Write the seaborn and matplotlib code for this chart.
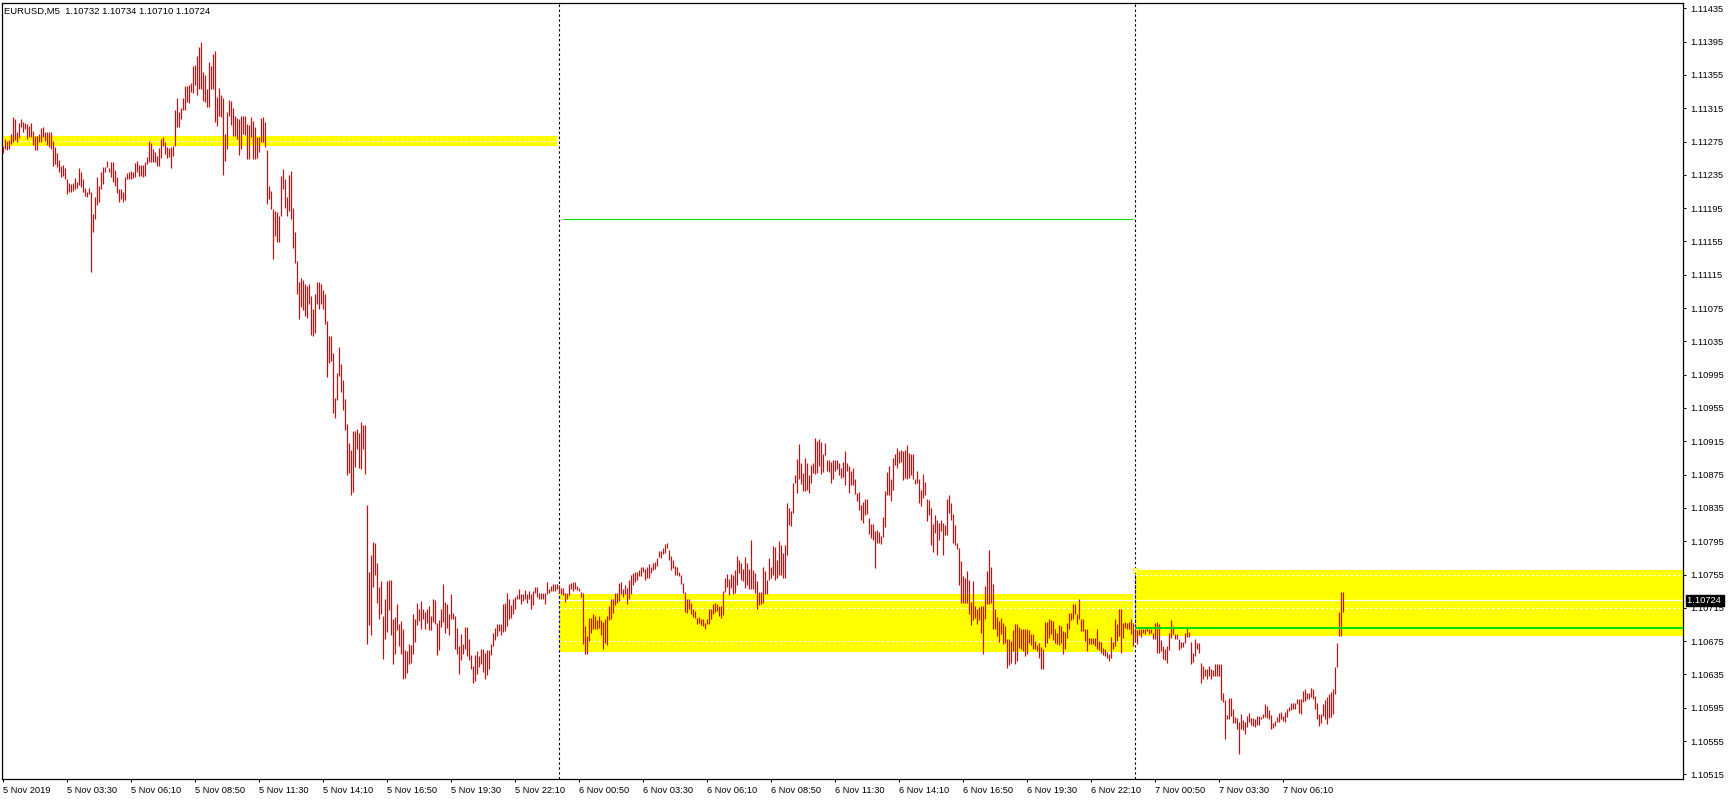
import numpy as np
import pandas as pd
import matplotlib
matplotlib.use("Agg")
import matplotlib.pyplot as plt
import matplotlib.transforms as mtransforms
import seaborn as sns

# ---------------- data ----------------
symbol = "EURUSD,M5"
last_ohlc = ["1.10732", "1.10734", "1.10710", "1.10724"]
start_time = "2019-11-05 00:50"
bar_minutes = 5

# bar highs / lows in points above 1.10000 (1 point = 0.00001)
high_pts = [
    1270, 1278, 1276, 1277, 1284, 1304, 1302, 1286, 1297, 1302,
    1298, 1297, 1296, 1294, 1297, 1288, 1282, 1282, 1284, 1291,
    1292, 1286, 1286, 1286, 1286, 1276, 1268, 1261, 1253, 1246,
    1247, 1243, 1230, 1225, 1224, 1225, 1231, 1227, 1243, 1238,
    1230, 1219, 1214, 1219, 1215, 1188, 1208, 1232, 1222, 1239,
    1244, 1245, 1252, 1243, 1250, 1250, 1241, 1232, 1218, 1218,
    1214, 1232, 1237, 1238, 1240, 1238, 1249, 1252, 1247, 1247,
    1247, 1250, 1256, 1276, 1273, 1266, 1262, 1258, 1267, 1278,
    1280, 1275, 1268, 1267, 1268, 1270, 1313, 1327, 1311, 1315,
    1327, 1342, 1342, 1343, 1345, 1366, 1367, 1378, 1389, 1394,
    1358, 1355, 1338, 1370, 1366, 1380, 1384, 1328, 1339, 1331,
    1327, 1284, 1311, 1325, 1324, 1315, 1306, 1303, 1302, 1306,
    1306, 1306, 1296, 1295, 1304, 1300, 1292, 1281, 1281, 1303,
    1305, 1299, 1265, 1222, 1216, 1194, 1192, 1190, 1185, 1234,
    1242, 1230, 1208, 1235, 1240, 1195, 1166, 1132, 1106, 1111,
    1109, 1104, 1101, 1104, 1090, 1074, 1092, 1106, 1106, 1104,
    1097, 1092, 1060, 1041, 1041, 1021, 967, 997, 1028, 1008,
    989, 966, 936, 913, 904, 927, 927, 930, 925, 938,
    934, 935, 839, 758, 778, 794, 793, 769, 740, 747,
    705, 726, 747, 749, 749, 702, 704, 720, 695, 699,
    690, 664, 663, 671, 670, 708, 701, 721, 713, 723,
    713, 710, 714, 717, 705, 726, 724, 697, 700, 714,
    744, 722, 719, 708, 731, 709, 705, 691, 669, 684,
    672, 692, 692, 678, 658, 645, 658, 663, 657, 665,
    666, 661, 664, 664, 671, 685, 691, 695, 695, 695,
    720, 721, 733, 726, 718, 725, 728, 730, 738, 731,
    732, 736, 732, 735, 732, 735, 740, 740, 733, 733,
    733, 733, 746, 737, 741, 744, 744, 744, 742, 739,
    739, 733, 733, 744, 745, 746, 746, 741, 739, 734,
    733, 693, 681, 703, 703, 708, 705, 700, 705, 700,
    698, 701, 705, 717, 726, 726, 733, 733, 745, 746,
    738, 743, 739, 749, 754, 757, 758, 758, 760, 764,
    764, 762, 764, 768, 764, 769, 770, 775, 783, 783,
    787, 792, 793, 785, 777, 773, 765, 764, 758, 754,
    745, 734, 726, 726, 721, 714, 711, 703, 704, 701,
    701, 697, 701, 714, 714, 719, 721, 719, 717, 717,
    735, 751, 756, 750, 756, 754, 761, 777, 773, 769,
    762, 776, 769, 762, 797, 761, 757, 747, 734, 734,
    764, 759, 749, 775, 764, 789, 788, 772, 795, 791,
    781, 791, 841, 835, 831, 865, 874, 894, 912, 889,
    877, 895, 889, 874, 887, 889, 919, 915, 918, 914,
    900, 913, 893, 893, 890, 893, 893, 893, 889, 883,
    890, 903, 889, 885, 879, 883, 870, 853, 854, 839,
    842, 846, 846, 823, 816, 816, 807, 809, 806, 801,
    824, 855, 878, 885, 870, 895, 900, 907, 903, 905,
    903, 904, 910, 901, 900, 900, 870, 879, 870, 857,
    876, 866, 846, 844, 835, 816, 827, 821, 817, 820,
    817, 815, 846, 850, 841, 828, 815, 793, 787, 771,
    753, 751, 759, 749, 722, 747, 717, 713, 716, 717,
    717, 741, 759, 784, 764, 744, 714, 704, 699, 703,
    697, 693, 678, 678, 675, 688, 696, 696, 692, 690,
    689, 690, 689, 688, 684, 683, 675, 670, 673, 668,
    665, 698, 698, 702, 700, 699, 689, 685, 694, 693,
    687, 686, 697, 709, 709, 720, 719, 708, 725, 702,
    701, 689, 690, 679, 679, 679, 679, 690, 675, 674,
    667, 665, 662, 660, 680, 674, 702, 695, 713, 713,
    697, 698, 697, 698, 701, 697, 690, 688, 689, 689,
    690, 689, 692, 689, 689, 685, 697, 698, 696, 676,
    669, 665, 669, 685, 700, 693, 684, 684, 678, 674,
    674, 685, 691, 686, 674, 661, 678, 673, 673, 649,
    645, 641, 642, 645, 641, 640, 648, 648, 647, 647,
    613, 604, 586, 607, 607, 593, 584, 583, 578, 588,
    580, 578, 585, 589, 583, 583, 581, 585, 585, 584,
    588, 600, 597, 592, 586, 577, 579, 584, 589, 590,
    585, 590, 593, 596, 601, 601, 601, 605, 605, 605,
    615, 617, 613, 613, 619, 618, 609, 601, 588, 588,
    600, 604, 608, 611, 614, 618, 644, 673, 710, 734,
    734,
]
low_pts = [
    1261, 1266, 1265, 1266, 1272, 1274, 1277, 1274, 1279, 1292,
    1286, 1290, 1278, 1281, 1281, 1271, 1265, 1265, 1274, 1275,
    1280, 1276, 1271, 1268, 1266, 1246, 1248, 1244, 1238, 1233,
    1234, 1230, 1212, 1215, 1214, 1216, 1218, 1219, 1223, 1220,
    1214, 1210, 1209, 1212, 1118, 1166, 1182, 1199, 1202, 1218,
    1224, 1238, 1244, 1238, 1232, 1226, 1222, 1213, 1202, 1206,
    1202, 1205, 1230, 1230, 1230, 1231, 1232, 1238, 1234, 1234,
    1233, 1234, 1248, 1250, 1250, 1250, 1250, 1246, 1246, 1255,
    1270, 1260, 1255, 1256, 1243, 1258, 1270, 1293, 1292, 1302,
    1313, 1313, 1322, 1321, 1335, 1333, 1343, 1331, 1338, 1338,
    1324, 1323, 1316, 1317, 1338, 1338, 1298, 1294, 1306, 1304,
    1235, 1252, 1266, 1306, 1295, 1282, 1282, 1278, 1259, 1266,
    1284, 1283, 1254, 1254, 1281, 1254, 1254, 1255, 1263, 1275,
    1274, 1269, 1200, 1206, 1194, 1134, 1161, 1154, 1154, 1186,
    1218, 1195, 1186, 1192, 1182, 1147, 1129, 1092, 1062, 1076,
    1073, 1065, 1063, 1080, 1043, 1041, 1045, 1080, 1074, 1080,
    1074, 1056, 992, 1009, 1012, 949, 943, 965, 993, 974,
    952, 928, 875, 877, 851, 854, 884, 906, 883, 882,
    906, 876, 672, 694, 682, 740, 754, 721, 702, 707,
    653, 678, 686, 712, 682, 647, 660, 688, 669, 660,
    630, 631, 637, 648, 649, 660, 674, 694, 699, 690,
    702, 690, 697, 688, 688, 698, 695, 658, 664, 692,
    698, 685, 691, 682, 702, 702, 665, 660, 636, 652,
    659, 665, 657, 652, 641, 625, 627, 635, 644, 648,
    638, 629, 634, 642, 658, 669, 676, 681, 687, 682,
    686, 687, 693, 702, 703, 708, 713, 725, 726, 720,
    723, 725, 721, 726, 714, 718, 733, 728, 726, 726,
    726, 719, 732, 733, 735, 735, 735, 738, 733, 731,
    730, 722, 726, 730, 737, 735, 737, 736, 735, 728,
    672, 659, 659, 675, 685, 690, 689, 690, 691, 682,
    665, 673, 670, 700, 701, 709, 718, 721, 723, 731,
    728, 732, 720, 725, 732, 742, 746, 748, 753, 753,
    758, 748, 751, 751, 757, 761, 762, 765, 776, 775,
    780, 781, 787, 773, 761, 763, 755, 755, 753, 744,
    733, 710, 709, 714, 708, 704, 703, 695, 697, 694,
    693, 690, 695, 695, 701, 707, 710, 711, 705, 703,
    706, 734, 740, 730, 739, 732, 733, 743, 757, 748,
    747, 739, 742, 738, 738, 737, 733, 713, 718, 719,
    721, 731, 731, 748, 751, 755, 749, 751, 755, 755,
    751, 751, 778, 814, 813, 829, 865, 853, 870, 864,
    855, 855, 857, 853, 865, 877, 876, 877, 885, 876,
    878, 899, 879, 878, 865, 870, 879, 882, 875, 871,
    872, 863, 879, 853, 863, 863, 852, 843, 833, 821,
    817, 826, 828, 804, 799, 796, 763, 793, 793, 792,
    800, 812, 850, 850, 843, 856, 887, 883, 889, 890,
    869, 871, 870, 871, 875, 870, 864, 865, 841, 837,
    847, 850, 819, 826, 791, 782, 805, 779, 797, 807,
    779, 802, 802, 829, 821, 793, 791, 786, 743, 721,
    721, 721, 721, 707, 694, 700, 703, 695, 700, 685,
    660, 701, 719, 720, 721, 689, 689, 681, 674, 683,
    672, 673, 643, 646, 649, 663, 647, 651, 667, 666,
    663, 657, 660, 673, 670, 666, 666, 663, 655, 642,
    642, 668, 673, 679, 684, 676, 673, 671, 670, 673,
    659, 665, 679, 690, 700, 701, 707, 695, 701, 687,
    687, 675, 663, 672, 672, 672, 669, 665, 664, 661,
    658, 657, 655, 651, 655, 665, 669, 675, 681, 661,
    679, 691, 690, 689, 683, 669, 675, 671, 682, 680,
    685, 684, 687, 683, 685, 677, 678, 661, 661, 663,
    654, 652, 649, 664, 679, 683, 677, 677, 664, 667,
    668, 673, 680, 680, 647, 650, 657, 666, 661, 625,
    630, 633, 630, 633, 630, 633, 633, 633, 633, 604,
    602, 558, 582, 582, 585, 577, 577, 570, 539, 569,
    568, 563, 572, 578, 574, 573, 572, 574, 574, 581,
    583, 584, 583, 581, 569, 571, 573, 578, 578, 582,
    579, 578, 584, 591, 592, 593, 593, 599, 589, 588,
    602, 603, 605, 605, 608, 605, 593, 581, 573, 577,
    585, 581, 576, 583, 584, 587, 612, 644, 681, 681,
    710,
]

# rectangles (supply / demand zones)
zone_start = ["2019-11-05 00:00", "2019-11-06 00:00", "2019-11-07 00:00"]
zone_end = ["2019-11-05 23:55", "2019-11-06 23:55", "2019-11-07 23:55"]
zone_low = [1.11270, 1.10662, 1.10681]
zone_high = [1.11282, 1.10731, 1.10760]
zone_dashes = [[1.11276], [1.10715, 1.10675], [1.10755, 1.10715]]

# green levels
green_start = ["2019-11-06 00:10", "2019-11-07 00:00"]
green_end = ["2019-11-06 23:55", "2019-11-07 23:55"]
green_level = [1.11182, 1.10691]
green_width = [1.0, 2.0]

bid_price = 1.10724
day_separators = ["2019-11-06 00:00", "2019-11-07 00:00"]

x_tick_labels = [
    "5 Nov 2019", "5 Nov 03:30", "5 Nov 06:10", "5 Nov 08:50", "5 Nov 11:30",
    "5 Nov 14:10", "5 Nov 16:50", "5 Nov 19:30", "5 Nov 22:10", "6 Nov 00:50",
    "6 Nov 03:30", "6 Nov 06:10", "6 Nov 08:50", "6 Nov 11:30", "6 Nov 14:10",
    "6 Nov 16:50", "6 Nov 19:30", "6 Nov 22:10", "7 Nov 00:50", "7 Nov 03:30",
    "7 Nov 06:10",
]
y_tick_labels = [
    "1.11435", "1.11395", "1.11355", "1.11315", "1.11275", "1.11235",
    "1.11195", "1.11155", "1.11115", "1.11075", "1.11035", "1.10995",
    "1.10955", "1.10915", "1.10875", "1.10835", "1.10795", "1.10755",
    "1.10715", "1.10675", "1.10635", "1.10595", "1.10555", "1.10515",
]

# ---------------- helpers ----------------
t0 = pd.Timestamp(start_time)
step = pd.Timedelta(minutes=bar_minutes)


def bar_of(t):
    return (pd.Timestamp(t) - t0) / step


n = min(len(high_pts), len(low_pts))
times = pd.date_range(start_time, periods=n, freq=f"{bar_minutes}min")
df = pd.DataFrame({
    "time": times,
    "bar": np.arange(n),
    "high": 1.1 + np.array(high_pts[:n]) / 1e5,
    "low": 1.1 + np.array(low_pts[:n]) / 1e5,
})

# ---------------- style ----------------
sns.set_style("white")
plt.rcParams["font.family"] = ["Liberation Sans", "DejaVu Sans"]

W, H = 1729, 800
fig = plt.figure(figsize=(W / 100, H / 100), dpi=100)
fig.patch.set_facecolor("white")
ax = fig.add_axes([2 / W, (H - 779) / H, (1683 - 2) / W, (779 - 3) / H])
ax.set_facecolor("white")

xmin, xmax = -0.5, 840
ax.set_xlim(xmin, xmax)
ax.set_ylim(1.105094, 1.114414)

dash = (0, (2.2, 2.2))

# zones
for s, e, lo, hi, dl in zip(zone_start, zone_end, zone_low, zone_high, zone_dashes):
    xs = [max(bar_of(s), xmin - 1), min(bar_of(e), xmax + 5)]
    ax.fill_between(xs, [lo, lo], [hi, hi], color="#FFFF00", lw=0, zorder=1)
    for d in dl:
        ax.hlines(d, xs[0], xs[1], colors="white", linestyles=dash, lw=0.8, zorder=2)

# bid line
ax.axhline(bid_price, color="white", lw=0.9, zorder=2)

# day separators
for sep in day_separators:
    b = bar_of(sep)
    ax.axvline(b, color="black", ls=dash, lw=0.8, zorder=3)
    for s, lo, hi in zip(zone_start, zone_low, zone_high):
        if bar_of(s) == b:
            ax.vlines(b, lo, hi, colors="#0000FF", linestyles=dash, lw=0.8, zorder=3.5)

# OHLC bars (high-low range)
ax.vlines(df["bar"], df["low"], df["high"], colors="#E60000", lw=0.85, zorder=4)

# green levels
for s, e, lvl, w in zip(green_start, green_end, green_level, green_width):
    ax.hlines(lvl, bar_of(s), min(bar_of(e), xmax + 5), colors="#00E000",
              lw=w * 0.75, zorder=5)

# selection handle on last zone
ax.plot([bar_of(zone_start[2])], [zone_high[2]], marker="s", ms=3.2, mfc="white",
        mec="#FFFF00", mew=0.9, zorder=6, clip_on=False)

# axes styling
for sp in ax.spines.values():
    sp.set_color("black")
    sp.set_linewidth(0.9)

ax.yaxis.tick_right()
ax.set_yticks([float(t) for t in y_tick_labels])
ax.set_yticklabels(y_tick_labels)
ax.tick_params(axis="y", direction="out", length=2.5, width=0.7, pad=2.5,
               labelsize=6.7, colors="black", right=True, left=False)

xt = np.arange(0, n, 32)[:len(x_tick_labels)]
ax.set_xticks(xt)
ax.set_xticklabels(x_tick_labels[:len(xt)], ha="left")
ax.tick_params(axis="x", direction="out", length=2.5, width=0.7, pad=2.5,
               labelsize=6.7, colors="black", bottom=True)
ax.grid(False)

# header text
ax.text(0.0012, 0.9895, f"{symbol}  " + " ".join(last_ohlc), transform=ax.transAxes,
        fontsize=6.8, color="black", ha="left", va="center", zorder=10)

# current price label
trans = mtransforms.blended_transform_factory(ax.transAxes, ax.transData)
ax.text(1.0024, bid_price, last_ohlc[3] + " ", transform=trans, color="white",
        fontsize=6.7, ha="left", va="center", zorder=10, clip_on=False,
        bbox=dict(boxstyle="square,pad=0.08", fc="black", ec="black"))

fig.savefig("out.png", dpi=100)
